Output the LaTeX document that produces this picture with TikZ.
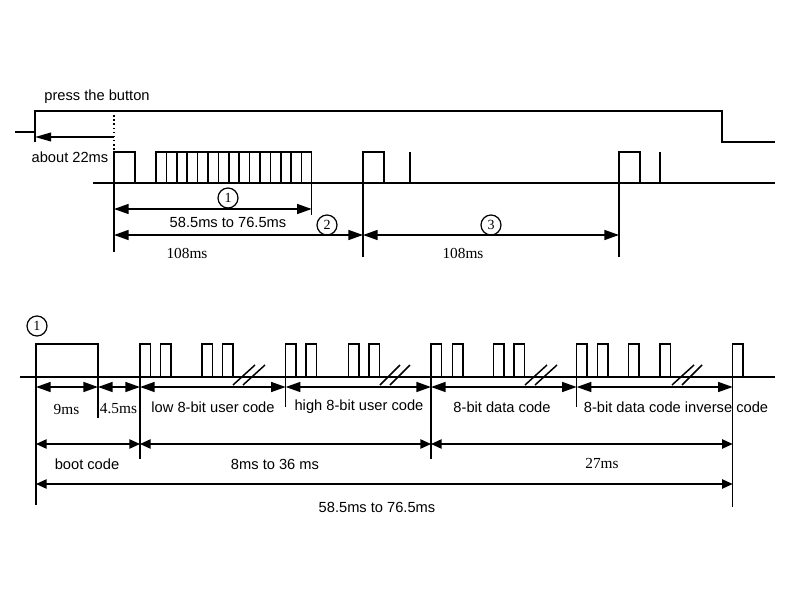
\documentclass[tikz,border=0pt]{standalone}
\usepackage{fontspec}
\setmainfont{Liberation Sans}
\newfontfamily\timesfont{Liberation Serif}
\usetikzlibrary{arrows.meta}
\tikzset{
	dim/.style={{Triangle[length=11pt,width=7.5pt]}-{Triangle[length=11pt,width=7.5pt]}},
	dimsmall/.style={{Triangle[length=8pt,width=7pt]}-{Triangle[length=8pt,width=7pt]}},
	num/.style={circle,draw,line width=0.9pt,minimum size=15pt,inner sep=0pt,font=\timesfont\fontsize{10.5}{10.5}\selectfont},
	ms/.style={font=\timesfont\fontsize{11.5}{12}\selectfont},
}
\begin{document}
\begin{tikzpicture}[x=0.75pt,y=-0.75pt,line width=1.1pt,font=\fontsize{11}{13}\selectfont]
	\useasboundingbox (0,0) rectangle (800,600);
	\begin{scope}
		% button
		\node (press) at (97,97) {press the button};
		\node (about) at (70,157) {about 22ms};
		\draw (15,132) -- (35,132);
		\draw (35,142) -- (35,111) -- (722,111) -- (722,142) -- (775,142);
		\draw[dotted] (114,111) -- (114,152);
		\draw[{Triangle[length=12pt,width=6.5pt]}-] (35,137) -- (114,137);

		% signal
		\draw (93,183) -- (775,183);
		\draw (114,183) -- (114,152) -- (135,152) -- (135,183);
		\draw (156,183) -- (156,152) -- (311.7,152) -- (311.7,183);
		\draw (166.4,152) -- (166.4,183) (176.8,152) -- (176.8,183)
			(187.2,152) -- (187.2,183) (197.6,152) -- (197.6,183)
			(208,152) -- (208,183) (218.4,152) -- (218.4,183)
			(228.8,152) -- (228.8,183) (239.2,152) -- (239.2,183)
			(249.6,152) -- (249.6,183) (260,152) -- (260,183)
			(270.4,152) -- (270.4,183) (280.8,152) -- (280.8,183)
			(291.2,152) -- (291.2,183) (301.6,152) -- (301.6,183);
		\draw (363,183) -- (363,152) -- (384,152) -- (384,183);
		\draw (410,183) -- (410,152);
		\draw (619,183) -- (619,152) -- (640,152) -- (640,183);
		\draw (660,183) -- (660,152);

		% ticks
		\draw (114,183) -- (114,252);
		\draw (311.7,183) -- (311.7,215);
		\draw (363,183) -- (363,257);
		\draw (619,183) -- (619,257);

		% spans
		\draw[dim] (114,209) -- (311.7,209);
		\node[num] (one) at (228,198) {1};
		\node (frame) at (228,222) {58.5ms to 76.5ms};
		\draw[dim] (114,235) -- (363,235);
		\node[num] (two) at (327,225) {2};
		\node[ms] (periodA) at (187,253) {108ms};
		\draw[dim] (363,235) -- (619,235);
		\node[num] (three) at (491,225) {3};
		\node[ms] (periodB) at (463,253) {108ms};
	\end{scope}

	\begin{scope}
		% frame
		\node[num] (oneB) at (37,326) {1};
		\draw (20,377) -- (775,377);
		\draw (36,377) -- (36,344) -- (98,344) -- (98,377);
		\draw (140,377) -- (140,344) -- (150.5,344) -- (150.5,377);
		\draw (160.7,377) -- (160.7,344) -- (171.2,344) -- (171.2,377);
		\draw (202,377) -- (202,344) -- (212.5,344) -- (212.5,377);
		\draw (222.7,377) -- (222.7,344) -- (233.2,344) -- (233.2,377);
		\draw (285.7,377) -- (285.7,344) -- (296.2,344) -- (296.2,377);
		\draw (306,377) -- (306,344) -- (316.5,344) -- (316.5,377);
		\draw (348.3,377) -- (348.3,344) -- (358.8,344) -- (358.8,377);
		\draw (369,377) -- (369,344) -- (379.5,344) -- (379.5,377);
		\draw (431,377) -- (431,344) -- (441.5,344) -- (441.5,377);
		\draw (452.3,377) -- (452.3,344) -- (462.8,344) -- (462.8,377);
		\draw (493.3,377) -- (493.3,344) -- (503.8,344) -- (503.8,377);
		\draw (514,377) -- (514,344) -- (524.5,344) -- (524.5,377);
		\draw (576.7,377) -- (576.7,344) -- (587.2,344) -- (587.2,377);
		\draw (597.3,377) -- (597.3,344) -- (607.8,344) -- (607.8,377);
		\draw (628.7,377) -- (628.7,344) -- (639.2,344) -- (639.2,377);
		\draw (660,377) -- (660,344) -- (670.5,344) -- (670.5,377);
		\draw (732.7,377) -- (732.7,344) -- (743.2,344) -- (743.2,377);

		% breaks
		\draw (233,385) -- (255,365) (243,385) -- (265,365);
		\draw (380,385) -- (400,365) (390,385) -- (410,365);
		\draw (525,385) -- (547,365) (535,385) -- (557,365);
		\draw (672,385) -- (694,365) (682,385) -- (702,365);

		% ticks
		\draw (36,377) -- (36,505);
		\draw (98,377) -- (98,418);
		\draw (140,377) -- (140,459);
		\draw (285.7,377) -- (285.7,407);
		\draw (431,377) -- (431,459);
		\draw (576.7,377) -- (576.7,407);
		\draw (732.7,377) -- (732.7,507);

		% fields
		\draw[dim] (36,387) -- (98,387);
		\draw[dim] (98,387) -- (140,387);
		\draw[dim] (140,387) -- (285.7,387);
		\draw[dim] (285.7,387) -- (431,387);
		\draw[dim] (431,387) -- (576.7,387);
		\draw[dim] (576.7,387) -- (732.7,387);
		\node[ms] (lead) at (66.5,409) {9ms};
		\node[ms] (space) at (118.5,409) {4.5ms};
		\node (userLow) at (213,407) {low 8-bit user code};
		\node (userHigh) at (359,407) {high 8-bit user code};
		\node (data) at (502,407) {8-bit data code};
		\node (dataInv) at (676,407) {8-bit data code inverse code};

		% groups
		\draw[dimsmall] (36,444) -- (140,444);
		\draw[dimsmall] (140,444) -- (431,444);
		\draw[dimsmall] (431,444) -- (732.7,444);
		\node (boot) at (87,464) {boot code};
		\node (user) at (275,464) {8ms to 36 ms};
		\node[ms] (dataMs) at (602,463) {27ms};

		% total
		\draw[dimsmall] (36,484) -- (732.7,484);
		\node (total) at (377,507) {58.5ms to 76.5ms};
	\end{scope}
\end{tikzpicture}
\end{document}
